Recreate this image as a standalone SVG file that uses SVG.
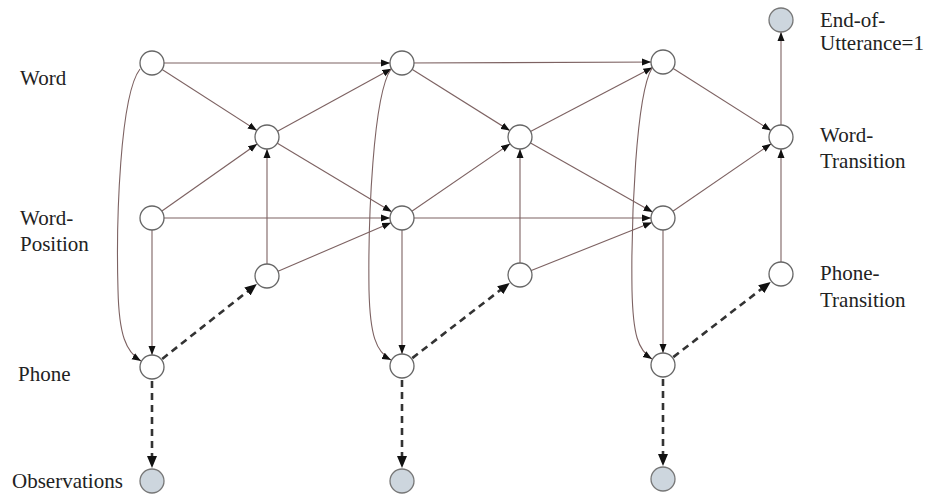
<svg xmlns="http://www.w3.org/2000/svg" width="926" height="497" viewBox="0 0 926 497">
<style>
.e{fill:none;stroke:#7d6262;stroke-width:1.1}
.d{fill:none;stroke:#333;stroke-width:2.6;stroke-dasharray:7 5}
.n{fill:#fff;stroke:#666;stroke-width:1.3}
.o{fill:#cdd6de;stroke:#777;stroke-width:1.3}
text{font-family:"Liberation Serif","Times New Roman",serif;font-size:21px;fill:#222}
</style>
<defs>
<marker id="a" markerUnits="userSpaceOnUse" markerWidth="24" markerHeight="8" refX="21" refY="4" orient="auto"><path d="M0,0.5 L9,4 L0,7.5 z" fill="#111"/></marker>
<marker id="ae" markerUnits="userSpaceOnUse" markerWidth="10" markerHeight="8" refX="9" refY="4" orient="auto"><path d="M0,0.5 L9,4 L0,7.5 z" fill="#111"/></marker>
<marker id="ad" markerUnits="userSpaceOnUse" markerWidth="13" markerHeight="10" refX="1" refY="5" orient="auto"><path d="M0,0 L12,5 L0,10 z" fill="#111"/></marker>
</defs>
<g id="connectors">
<path class="e" marker-end="url(#a)" d="M152,63 L402,63"/>
<path class="e" marker-end="url(#a)" d="M402,63 L663,62"/>
<path class="e" marker-end="url(#a)" d="M152,63 L267,137"/>
<path class="e" marker-end="url(#a)" d="M402,63 L520,137"/>
<path class="e" marker-end="url(#a)" d="M663,62 L781,137"/>
<path class="e" marker-end="url(#a)" d="M152,218 L267,137"/>
<path class="e" marker-end="url(#a)" d="M402,218 L520,137"/>
<path class="e" marker-end="url(#a)" d="M663,218 L781,137"/>
<path class="e" marker-end="url(#a)" d="M267,137 L402,63"/>
<path class="e" marker-end="url(#a)" d="M520,137 L663,62"/>
<path class="e" marker-end="url(#a)" d="M267,137 L402,218"/>
<path class="e" marker-end="url(#a)" d="M520,137 L663,218"/>
<path class="e" marker-end="url(#a)" d="M152,218 L402,218"/>
<path class="e" marker-end="url(#a)" d="M402,218 L663,218"/>
<path class="e" marker-end="url(#a)" d="M267,276 L267,137"/>
<path class="e" marker-end="url(#a)" d="M520,275 L520,137"/>
<path class="e" marker-end="url(#a)" d="M781,274 L781,137"/>
<path class="e" marker-end="url(#a)" d="M267,276 L402,218"/>
<path class="e" marker-end="url(#a)" d="M520,275 L663,218"/>
<path class="e" marker-end="url(#a)" d="M152,218 L152,367"/>
<path class="e" marker-end="url(#a)" d="M402,218 L402,366"/>
<path class="e" marker-end="url(#a)" d="M663,218 L663,365"/>
<path class="e" marker-end="url(#a)" d="M781,137 L781,20"/>
<path class="e" marker-end="url(#ae)" d="M140,69 C120,95 116,220 118,290 C119,335 126,352 141,361"/>
<path class="e" marker-end="url(#ae)" d="M391,69 C373,95 368,220 369,290 C370,335 376,352 391,360"/>
<path class="e" marker-end="url(#ae)" d="M652,68 C636,95 631,220 632,290 C633,335 638,350 652,359"/>
<path class="d" marker-end="url(#ad)" d="M162.2,358.9 L248.2,290.9"/>
<path class="d" marker-end="url(#ad)" d="M412.3,358.1 L501,289.6"/>
<path class="d" marker-end="url(#ad)" d="M673.3,357.1 L762,288.6"/>
<path class="d" marker-end="url(#ad)" d="M152,381 L152,457"/>
<path class="d" marker-end="url(#ad)" d="M402,380 L402,457"/>
<path class="d" marker-end="url(#ad)" d="M663,379 L663,455"/>
</g>
<g id="word1"><circle class="n" cx="152" cy="63" r="12"/></g>
<g id="word2"><circle class="n" cx="402" cy="63" r="12"/></g>
<g id="word3"><circle class="n" cx="663" cy="62" r="12"/></g>
<g id="wordtrans1"><circle class="n" cx="267" cy="137" r="12"/></g>
<g id="wordtrans2"><circle class="n" cx="520" cy="137" r="12"/></g>
<g id="wordtrans3"><circle class="n" cx="781" cy="137" r="12"/></g>
<g id="wordpos1"><circle class="n" cx="152" cy="218" r="12"/></g>
<g id="wordpos2"><circle class="n" cx="402" cy="218" r="12"/></g>
<g id="wordpos3"><circle class="n" cx="663" cy="218" r="12"/></g>
<g id="phonetrans1"><circle class="n" cx="267" cy="276" r="12"/></g>
<g id="phonetrans2"><circle class="n" cx="520" cy="275" r="12"/></g>
<g id="phonetrans3"><circle class="n" cx="781" cy="274" r="12"/></g>
<g id="phone1"><circle class="n" cx="152" cy="367" r="12"/></g>
<g id="phone2"><circle class="n" cx="402" cy="366" r="12"/></g>
<g id="phone3"><circle class="n" cx="663" cy="365" r="12"/></g>
<g id="obs1"><circle class="o" cx="152" cy="481" r="12"/></g>
<g id="obs2"><circle class="o" cx="402" cy="481" r="12"/></g>
<g id="obs3"><circle class="o" cx="663" cy="479" r="12"/></g>
<g id="eou"><circle class="o" cx="781" cy="20" r="12"/></g>
<g id="labels">
<text x="20" y="85">Word</text>
<text x="20" y="225">Word-</text>
<text x="20" y="251">Position</text>
<text x="18" y="381">Phone</text>
<text x="12" y="488">Observations</text>
<text x="820" y="27">End-of-</text>
<text x="820" y="50">Utterance=1</text>
<text x="820" y="142">Word-</text>
<text x="820" y="168">Transition</text>
<text x="820" y="280">Phone-</text>
<text x="820" y="307">Transition</text>
</g>
</svg>
